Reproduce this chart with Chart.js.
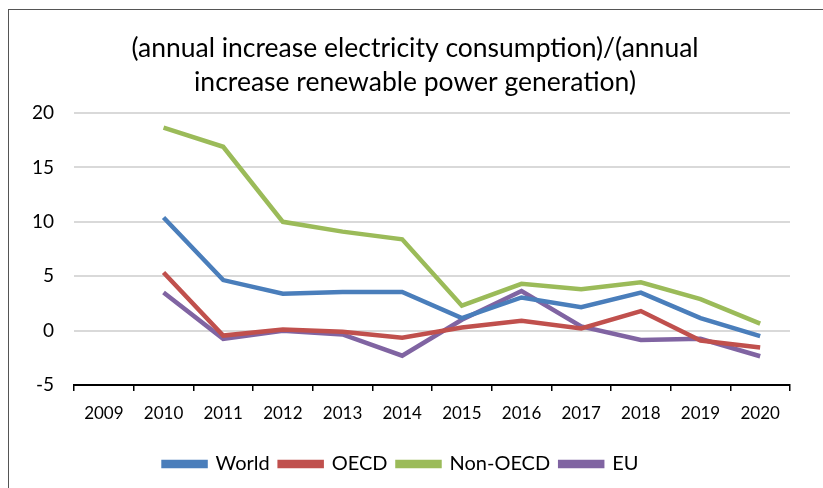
<!DOCTYPE html>
<html>
<head>
<meta charset="utf-8">
<script src="https://cdn.jsdelivr.net/npm/chart.js@4.4.1/dist/chart.umd.min.js"></script>
<style>
    html, body { margin: 0; padding: 0; background: #fff; }
    #wrap { position: relative; width: 823px; height: 488px; overflow: hidden; }
    #frame { position: absolute; left: 8px; top: 9px; width: 900px; height: 600px; border-left: 1px solid #555; border-top: 1px solid #555; }
    canvas { position: absolute; left: 0; top: 0; }
</style>
</head>
<body>
<div id="wrap">
    <div id="frame"></div>
    <canvas id="chart" width="823" height="488"></canvas>
</div>
<script>
const years = ['2009', '2010', '2011', '2012', '2013', '2014', '2015', '2016', '2017', '2018', '2019', '2020'];
const world = [null, 10.4, 4.65, 3.4, 3.55, 3.55, 1.15, 3.05, 2.15, 3.5, 1.15, -0.5];
const oecd = [null, 5.35, -0.45, 0.1, -0.1, -0.65, 0.3, 0.9, 0.2, 1.8, -0.9, -1.55];
const nonOecd = [null, 18.65, 16.9, 10.0, 9.1, 8.4, 2.3, 4.3, 3.8, 4.45, 2.9, 0.65];
const eu = [null, 3.5, -0.75, 0.0, -0.35, -2.3, 1.0, 3.65, 0.4, -0.85, -0.75, -2.35];
const titleLines = ['(annual increase electricity consumption)/(annual', 'increase renewable power generation)'];

const font = 'Lato, "Open Sans", sans-serif';

function series(label, data, color) {
    return {
        label: label,
        data: data,
        borderColor: color,
        backgroundColor: color,
        borderWidth: 4.5,
        pointRadius: 0,
        tension: 0,
        spanGaps: false
    };
}

// title drawn by hand so it can sit centred on the whole picture, like the original
const titlePlugin = {
    id: 'centredTitle',
    afterDraw(chart) {
        const ctx = chart.ctx;
        ctx.save();
        ctx.fillStyle = '#000';
        ctx.font = '26.5px ' + font;
        ctx.textAlign = 'center';
        ctx.textBaseline = 'middle';
        ctx.fillText(titleLines[0], 415, 48);
        ctx.fillText(titleLines[1], 415, 82);
        ctx.restore();
    }
};

new Chart(document.getElementById('chart'), {
    type: 'line',
    data: {
        labels: years,
        datasets: [
            series('World', world, '#4a7ebb'),
            series('OECD', oecd, '#c0504d'),
            series('Non-OECD', nonOecd, '#9bbb59'),
            series('EU', eu, '#8064a2')
        ]
    },
    options: {
        responsive: false,
        animation: false,
        layout: { padding: { left: 12, right: 33, top: 113, bottom: 4 } },
        scales: {
            x: {
                offset: true,
                grid: { offset: true, drawOnChartArea: false, drawTicks: true, tickLength: 6, color: '#000', lineWidth: 1.5 },
                border: { display: true, color: '#000', width: 2 },
                ticks: { color: '#000', font: { family: font, size: 17 }, padding: 12 },
                afterFit(scale) { scale.height += 8.5; }
            },
            y: {
                min: -5,
                max: 20,
                ticks: { stepSize: 5, color: '#000', font: { family: font, size: 19 }, padding: 20 },
                grid: { color: '#d9d9d9', lineWidth: 2, drawTicks: false },
                border: { display: false }
            }
        },
        plugins: {
            title: { display: false },
            legend: {
                position: 'bottom',
                labels: {
                    color: '#000',
                    font: { family: font, size: 20 },
                    boxWidth: 42,
                    boxHeight: 4,
                    padding: 10
                }
            },
            tooltip: { enabled: false }
        }
    },
    plugins: [titlePlugin]
});
</script>
</body>
</html>
